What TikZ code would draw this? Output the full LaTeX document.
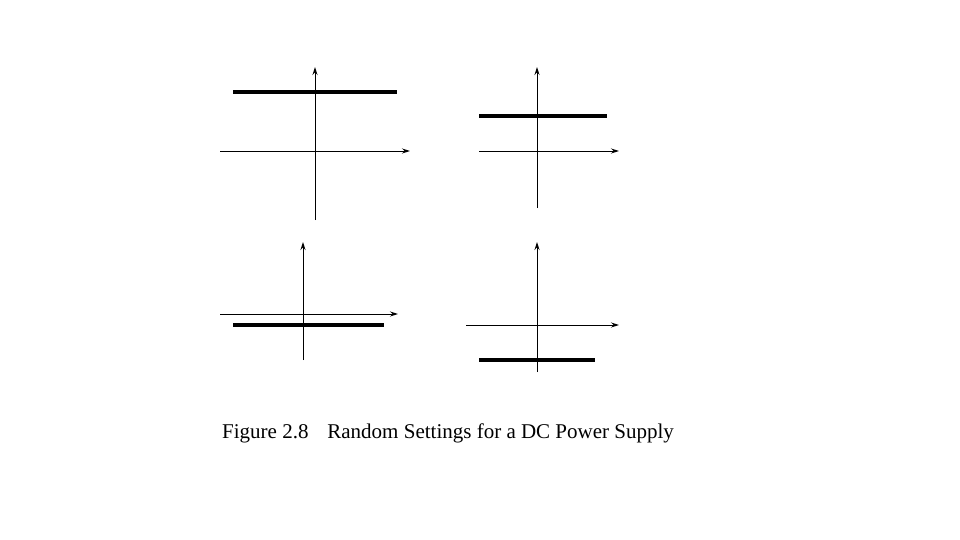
\documentclass[tikz,border=0pt]{standalone}
\usepackage{fontspec}
\usetikzlibrary{arrows.meta}
\setmainfont{Liberation Serif}
\begin{document}
\begin{tikzpicture}[x=1pt,y=-1pt,
  ax/.style={-{Stealth[length=8pt,width=5pt]},line width=0.9pt},
  lvl/.style={line width=3.2pt}]
\useasboundingbox (0,0) rectangle (960,540);
% plot 1
\coordinate (a1) at (315,220); \coordinate (b1) at (315,67);
\coordinate (c1) at (220,151); \coordinate (d1) at (410,151);
\coordinate (e1) at (233,92); \coordinate (f1) at (397,92);
\draw[ax] (a1) -- (b1); \draw[ax] (c1) -- (d1); \draw[lvl] (e1) -- (f1);
% plot 2
\coordinate (a2) at (537,208); \coordinate (b2) at (537,67);
\coordinate (c2) at (479,151); \coordinate (d2) at (619,151);
\coordinate (e2) at (479,116); \coordinate (f2) at (607,116);
\draw[ax] (a2) -- (b2); \draw[ax] (c2) -- (d2); \draw[lvl] (e2) -- (f2);
% plot 3
\coordinate (a3) at (303,360); \coordinate (b3) at (303,242);
\coordinate (c3) at (220,314); \coordinate (d3) at (398,314);
\coordinate (e3) at (233,325); \coordinate (f3) at (384,325);
\draw[ax] (a3) -- (b3); \draw[ax] (c3) -- (d3); \draw[lvl] (e3) -- (f3);
% plot 4
\coordinate (a4) at (537,372); \coordinate (b4) at (537,242);
\coordinate (c4) at (466,325); \coordinate (d4) at (619,325);
\coordinate (e4) at (479,360); \coordinate (f4) at (595,360);
\draw[ax] (a4) -- (b4); \draw[ax] (c4) -- (d4); \draw[lvl] (e4) -- (f4);
\node[anchor=west,inner sep=0,font=\fontsize{21}{24}\selectfont] (cap) at (222,433) {Figure 2.8\hspace{0.9em}Random Settings for a DC Power Supply};
\end{tikzpicture}
\end{document}
